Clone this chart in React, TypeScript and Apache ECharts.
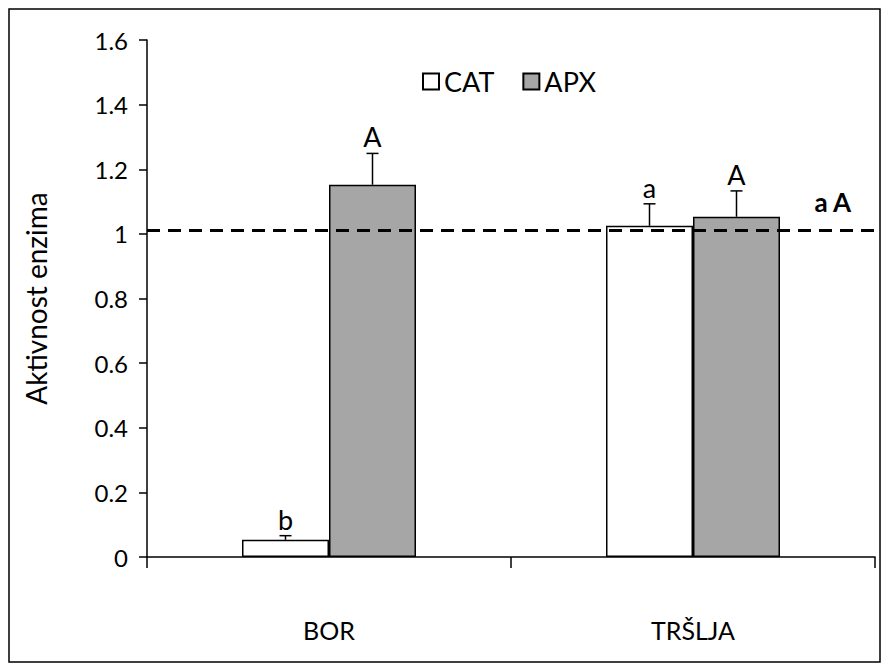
import React, { useEffect, useRef } from "react";
import * as echarts from "echarts";

const categories = ["BOR", "TRŠLJA"];
const seriesNames = ["CAT", "APX"];
const catValues = [0.053, 1.025];
const catErrors = [0.013, 0.068];
const catLetters = ["b", "a"];
const apxValues = [1.152, 1.053];
const apxErrors = [0.097, 0.08];
const apxLetters = ["A", "A"];
const controlValue = 1.007;
const controlLabel = "a A";
const yTicks = [0, 0.2, 0.4, 0.6, 0.8, 1, 1.2, 1.4, 1.6];

const FONT = "Lato, 'Open Sans', sans-serif";
const BAR_W = 87;

function errSeries(name: string, values: number[], errors: number[], letters: string[], offset: number) {
  return {
    type: "custom",
    name: name + "_err",
    data: values.map((v, i) => [i, v, errors[i]]),
    z: 5,
    renderItem: (params: any, api: any) => {
      const idx = api.value(0);
      const v = api.value(1);
      const e = api.value(2);
      const letter = letters[params.dataIndex];
      const base = api.coord([idx, v]);
      const top = api.coord([idx, v + e]);
      const x = base[0] + offset;
      return {
        type: "group",
        children: [
          { type: "line", shape: { x1: x, y1: base[1], x2: x, y2: top[1] }, style: { stroke: "#000", lineWidth: 1.5 } },
          { type: "line", shape: { x1: x - 6, y1: top[1], x2: x + 6, y2: top[1] }, style: { stroke: "#000", lineWidth: 1.5 } },
          {
            type: "text",
            style: {
              x: x,
              y: top[1] - 3,
              text: letter,
              fill: "#000",
              font: `27px ${FONT}`,
              textAlign: "center",
              textVerticalAlign: "bottom",
            },
          },
        ],
      };
    },
  };
}

export default function App() {
  const ref = useRef<HTMLDivElement>(null);
  useEffect(() => {
    const chart = echarts.init(ref.current!, null, { renderer: "svg" });
    chart.setOption({
      animation: false,
      textStyle: { fontFamily: FONT },
      graphic: [
        { type: "rect", shape: { x: 1, y: 1, width: 871, height: 653 }, style: { fill: "none", stroke: "#000", lineWidth: 1.5 } },
        {
          type: "text",
          right: 31,
          top: 181,
          style: { text: controlLabel, font: `bold 26px ${FONT}`, fill: "#000" },
        },
      ],
      legend: {
        top: 55,
        left: 409,
        itemGap: 28,
        itemWidth: 16,
        itemHeight: 16,
        icon: "rect",
        data: seriesNames,
        textStyle: { fontSize: 27, color: "#000", fontFamily: FONT },
      },
      grid: { left: 139, top: 32, width: 728, height: 517, containLabel: false },
      xAxis: {
        type: "category",
        data: categories,
        boundaryGap: true,
        axisLine: { lineStyle: { color: "#000", width: 1.5 } },
        axisTick: { show: true, alignWithLabel: false, interval: 0, length: 11, lineStyle: { color: "#000", width: 1.5 } },
        axisLabel: { margin: 60, fontSize: 25, color: "#000", fontFamily: FONT },
      },
      yAxis: {
        type: "value",
        min: 0,
        max: 1.6,
        interval: 0.2,
        name: "Aktivnost enzima",
        nameLocation: "middle",
        nameGap: 97,
        nameTextStyle: { fontSize: 28, color: "#000", fontFamily: FONT },
        splitLine: { show: false },
        axisLine: { show: true, lineStyle: { color: "#000", width: 1.5 } },
        axisTick: { show: true, length: 8, lineStyle: { color: "#000", width: 1.5 } },
        axisLabel: {
          margin: 19,
          fontSize: 24,
          color: "#000",
          fontFamily: FONT,
          formatter: (v: number) => (yTicks.includes(+v.toFixed(1)) ? String(+v.toFixed(1)) : ""),
        },
      },
      series: [
        {
          type: "bar",
          name: seriesNames[0],
          data: catValues,
          barWidth: BAR_W,
          barGap: "0%",
          itemStyle: { color: "#ffffff", borderColor: "#000", borderWidth: 1.5 },
          markLine: {
            silent: true,
            symbol: "none",
            label: { show: false },
            lineStyle: { color: "#000", width: 3, type: [13, 8] },
            data: [{ yAxis: controlValue }],
          },
          z: 2,
        },
        {
          type: "bar",
          name: seriesNames[1],
          data: apxValues,
          barWidth: BAR_W,
          barGap: "0%",
          itemStyle: { color: "#a6a6a6", borderColor: "#000", borderWidth: 1.5 },
          z: 2,
        },
        errSeries(seriesNames[0], catValues, catErrors, catLetters, -BAR_W / 2),
        errSeries(seriesNames[1], apxValues, apxErrors, apxLetters, BAR_W / 2),
      ],
    });
    return () => chart.dispose();
  }, []);
  return <div ref={ref} style={{ width: 875, height: 658 }} />;
}
